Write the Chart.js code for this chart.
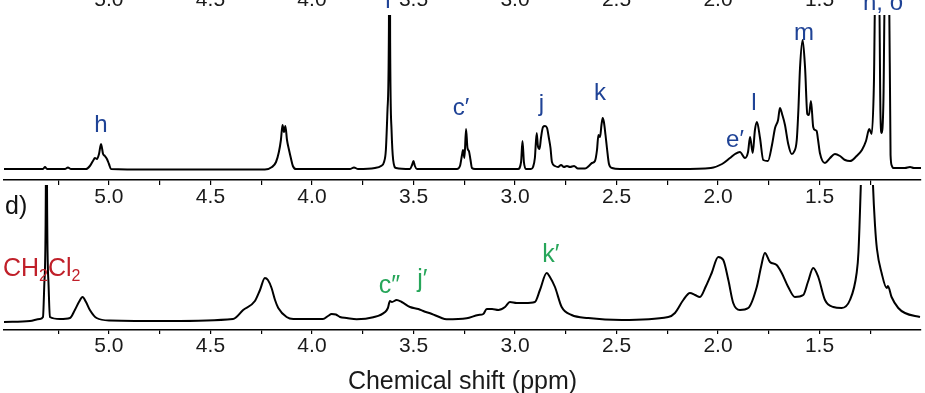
<!DOCTYPE html>
<html>
<head>
<meta charset="utf-8">
<script src="https://cdn.jsdelivr.net/npm/chart.js@4.4.1/dist/chart.umd.min.js"></script>
<style>
  html, body { margin: 0; padding: 0; background: #fff; overflow: hidden; }
  body { width: 925px; height: 393px; position: relative; }
  canvas { position: absolute; left: 0; }
  #top { top: -15px; }
  #bottom { top: 150px; }
</style>
</head>
<body>
<canvas id="top" width="925" height="235"></canvas>
<canvas id="bottom" width="925" height="247"></canvas>
<script>
const FONT = '"Liberation Sans", Arial, sans-serif';

// x axis (ppm), reversed like an NMR plot
const ppmMin = 1.0, ppmMax = 5.517;
const tickVals = [5.25, 5.0, 4.75, 4.5, 4.25, 4.0, 3.75, 3.5, 3.25, 3.0, 2.75, 2.5, 2.25, 2.0, 1.75, 1.5, 1.25];
const tickLabels = [5.0, 4.5, 4.0, 3.5, 3.0, 2.5, 2.0, 1.5];

// upper spectrum
const topPpm = [5.517, 5.389, 5.325, 5.315, 5.305, 5.217, 5.202, 5.187, 5.113, 5.094, 5.079, 5.069, 5.059, 5.049, 5.039, 5.029, 5.020, 5.010, 5.000, 4.990,
  4.798, 4.552, 4.232, 4.197, 4.177, 4.163, 4.153, 4.145, 4.138, 4.131, 4.123, 4.113, 4.104, 4.094, 4.079,
  3.813, 3.793, 3.773, 3.690, 3.660, 3.645, 3.636, 3.628, 3.621, 3.618, 3.615, 3.608, 3.600, 3.586,
  3.517, 3.507, 3.500, 3.493, 3.483, 3.286, 3.271, 3.261, 3.256, 3.249, 3.241, 3.234, 3.227, 3.219, 3.212, 3.197,
  2.985, 2.970, 2.963, 2.956, 2.946, 2.921, 2.911, 2.902, 2.893, 2.887, 2.879, 2.872, 2.862, 2.852, 2.842, 2.833, 2.825, 2.818,
  2.803, 2.788, 2.773, 2.759, 2.744, 2.729, 2.709, 2.690, 2.655, 2.636, 2.621, 2.606, 2.596, 2.589, 2.581, 2.574, 2.568, 2.562,
  2.554, 2.547, 2.537, 2.522, 2.483, 2.187, 2.035, 1.980, 1.941, 1.916, 1.892, 1.867, 1.852, 1.842, 1.829, 1.818, 1.808, 1.793,
  1.777, 1.754, 1.734, 1.719, 1.704, 1.695, 1.683, 1.670, 1.654, 1.637, 1.626, 1.612, 1.604, 1.596, 1.583, 1.571, 1.560, 1.552,
  1.542, 1.531, 1.522, 1.514, 1.507, 1.498, 1.473, 1.448, 1.424, 1.399, 1.374, 1.350, 1.317, 1.291, 1.271, 1.255, 1.243, 1.232,
  1.224, 1.207, 1.200, 1.194, 1.185, 1.177, 1.158, 1.150, 1.143, 1.138, 1.079, 1.054, 1.035, 1.000];
const topInt = [1, 1, 1, 3, 1, 1, 2.5, 1, 1, 4, 9, 12, 11, 16, 26, 16, 14, 11, 6, 1,
  0.5, 0.5, 0.5, 3, 8, 18, 30, 45, 38, 44, 30, 20, 12, 4, 1,
  1, 2.5, 1, 2, 4, 8, 20, 60, 140, 400, 130, 40, 10, 2,
  1, 5, 9, 4, 1, 1, 4, 15, 20, 12, 41, 22, 19, 10, 2, 1,
  1, 8, 29, 8, 1, 1, 3, 12, 37, 24, 21, 32, 43, 44, 42, 32, 22, 8,
  4, 3, 5, 3, 4, 3, 4, 1.5, 1.5, 4, 7, 9, 20, 35, 33, 45, 52, 48,
  35, 22, 6, 2, 1, 1, 2, 6, 12, 16, 18, 12, 18, 33, 17, 40, 48, 32,
  10, 9, 25, 42, 50, 62, 55, 45, 26, 16, 18, 30, 60, 102, 130, 102, 56, 55,
  69, 43, 40, 39, 30, 17, 7, 12, 16, 14, 10, 9, 14, 20, 29, 41, 36, 86,
  200, 200, 60, 37, 70, 200, 200, 15, 4, 2, 2, 3, 2, 2];

// lower spectrum (d)
const botPpm = [5.517, 5.389, 5.340, 5.325, 5.318, 5.311, 5.308, 5.305, 5.298, 5.291, 5.241, 5.192, 5.168, 5.148, 5.130, 5.113, 5.094, 5.061, 4.995,
  4.700, 4.389, 4.339, 4.281, 4.256, 4.232, 4.217, 4.199, 4.182, 4.166, 4.125, 4.092, 3.946, 3.921, 3.903, 3.882, 3.862, 3.829, 3.780,
  3.698, 3.640, 3.626, 3.616, 3.606, 3.583, 3.558, 3.517, 3.476, 3.452, 3.409, 3.370, 3.337, 3.238, 3.181, 3.156, 3.139, 3.113, 3.082,
  3.049, 3.025, 2.992, 2.951, 2.902, 2.877, 2.844, 2.828, 2.803, 2.770, 2.721, 2.639, 2.474, 2.245, 2.212, 2.171, 2.138, 2.113, 2.089,
  2.059, 2.031, 1.999, 1.974, 1.949, 1.925, 1.892, 1.851, 1.809, 1.788, 1.769, 1.744, 1.711, 1.686, 1.654, 1.621, 1.580, 1.557, 1.531,
  1.506, 1.473, 1.432, 1.391, 1.350, 1.317, 1.308, 1.296, 1.281, 1.266, 1.251, 1.237, 1.226, 1.217, 1.194, 1.169, 1.163, 1.145, 1.112,
  1.079, 1.005];
const botInt = [0, 1, 3, 5, 40, 130, 500, 130, 40, 5, 3, 4, 12, 20, 25, 20, 12, 4, 1.5,
  1, 3, 12, 21, 32, 44, 42, 34, 22, 14, 5, 3, 3, 6, 8, 7.5, 5, 4, 2.7,
  4.7, 10, 14, 21, 20, 22, 20, 15, 13, 11, 8, 4.7, 2.7, 3.7, 7, 8, 13, 13, 12,
  15, 20, 19, 19, 20, 32, 49, 45, 35, 15, 7, 4, 2, 5, 9, 22, 29, 27, 25,
  36, 49, 65, 62, 42, 19, 12, 14, 35, 55, 69, 60, 57, 49, 35, 25, 27, 40, 54,
  45, 22, 15, 14, 22, 49, 70, 140, 250, 320, 250, 140, 95, 73, 49, 34, 36, 25, 14,
  9, 5];

// peak labels
const topLabText = ['i', 'h', 'c\u2032', 'j', 'k', 'e\u2032', 'l', 'm', 'n, o'];
const topLabPpm = [3.626, 5.039, 3.266, 2.870, 2.581, 1.916, 1.823, 1.576, 1.187];
const topLabInt = [162, 38, 55, 59, 70, 23, 60, 130, 160];

const botLabText = ['d)', 'CH_2Cl_2', 'c\u2033', 'j\u2032', 'k\u2032'];
const botLabPpm = [5.512, 5.522, 3.618, 3.456, 2.823];
const botLabInt = [108, 46, 29, 35, 60];
const botLabColor = ['#111', '#c0202a', '#27a65a', '#27a65a', '#27a65a'];
const botLabAlign = ['left', 'left', 'center', 'center', 'center'];

const BLUE = '#1f4396';

// draws text labels at (ppm, intensity) through the chart scales; "_2" = subscript 2
function labelPlugin(texts, ppms, ints, colors, aligns, size) {
  return {
    id: 'peakLabels',
    afterDatasetsDraw(chart) {
      const ctx = chart.ctx;
      const xs = chart.scales.x, ys = chart.scales.y;
      ctx.save();
      ctx.textBaseline = 'alphabetic';
      ctx.textAlign = 'left';
      for (let i = 0; i < texts.length; i++) {
        const parts = texts[i].split(/(_\d)/).filter(p => p).map(p =>
          p[0] === '_' ? { t: p.slice(1), s: size * 0.64, dy: size * 0.2 } : { t: p, s: size, dy: 0 });
        let w = 0;
        parts.forEach(p => { ctx.font = p.s + 'px ' + FONT; p.w = ctx.measureText(p.t).width; w += p.w; });
        let x = xs.getPixelForValue(ppms[i]);
        const y = ys.getPixelForValue(ints[i]);
        if (aligns[i] === 'center') x -= w / 2;
        ctx.fillStyle = colors[i];
        parts.forEach(p => {
          ctx.font = p.s + 'px ' + FONT;
          ctx.fillText(p.t, x, y + p.dy);
          x += p.w;
        });
      }
      ctx.restore();
    }
  };
}

function xAxis(pos, height, tickLen, title) {
  const isTop = pos === 'top';
  return {
    type: 'linear', position: pos, min: ppmMin, max: ppmMax, reverse: true,
    afterBuildTicks: s => { s.ticks = tickVals.map(v => ({ value: v })); },
    afterFit: s => { s.height = height; },
    ticks: {
      autoSkip: false, maxRotation: 0, padding: isTop ? 2 : 0, color: '#1a1a1a',
      font: { family: FONT, size: 21 },
      callback: v => tickLabels.includes(v) ? v.toFixed(1) : ''
    },
    grid: { display: !isTop, drawOnChartArea: false, drawTicks: !isTop, tickLength: tickLen, color: '#000', lineWidth: 1.2 },
    border: { display: !isTop, color: '#000', width: 1.5 },
    title: { display: !!title, text: title || '', color: '#1a1a1a', font: { family: FONT, size: 25 }, padding: 0 }
  };
}

function spectrum(ppm, inten) {
  return {
    data: ppm.map((v, i) => ({ x: v, y: inten[i] })),
    borderColor: '#000', borderWidth: 2, pointRadius: 0,
    cubicInterpolationMode: 'monotone', fill: false
  };
}

const common = {
  responsive: false, animation: false, events: [],
  plugins: { legend: { display: false }, tooltip: { enabled: false } }
};

new Chart(document.getElementById('top'), {
  type: 'line',
  data: { datasets: [spectrum(topPpm, topInt)] },
  options: Object.assign({}, common, {
    layout: { padding: { left: 4, right: 4, top: 0, bottom: 0 } },
    scales: {
      x: xAxis('bottom', 40, 5),
      x2: xAxis('top', 30, 0),
      y: { display: false, min: -10, max: 155 }
    }
  }),
  plugins: [labelPlugin(topLabText, topLabPpm, topLabInt, topLabText.map(() => BLUE), topLabText.map(() => 'center'), 24)]
});

new Chart(document.getElementById('bottom'), {
  type: 'line',
  data: { datasets: [spectrum(botPpm, botInt)] },
  options: Object.assign({}, common, {
    layout: { padding: { left: 4, right: 4, top: 35, bottom: 0 } },
    scales: {
      x: xAxis('bottom', 67, 4, 'Chemical shift (ppm)'),
      y: { display: false, min: -8, max: 137 }
    }
  }),
  plugins: [labelPlugin(botLabText, botLabPpm, botLabInt, botLabColor, botLabAlign, 25)]
});
</script>
</body>
</html>
